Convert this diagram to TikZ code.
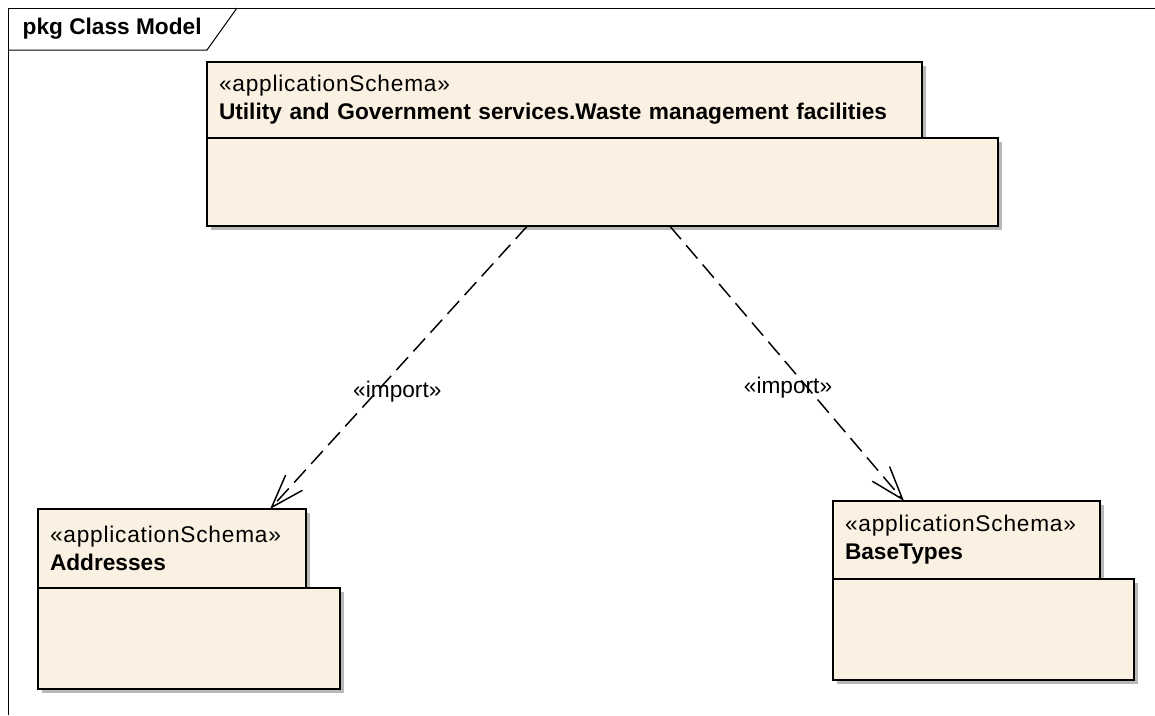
\documentclass[tikz,border=0pt]{standalone}
\usepackage{fontspec}
\setmainfont{Liberation Sans}
\usetikzlibrary{calc,arrows.meta,shadows}
\definecolor{pkgfill}{RGB}{251,241,226}
\newcommand{\stereotxt}[1]{{\addfontfeature{LetterSpace=3.5}#1}}

\begin{document}
\begin{tikzpicture}[x=0.75pt,y=-0.75pt,font=\fontsize{17}{21}\selectfont,
  pkgshadow/.style={drop shadow={shadow xshift=3pt,shadow yshift=-3pt,fill=black!28,opacity=1}},
  pkgtab/.style={draw=black,fill=pkgfill,line width=1.5pt,outer sep=0pt,anchor=north west,align=left,inner xsep=9pt,pkgshadow},
  pkgbody/.style={draw=black,fill=pkgfill,line width=1.5pt,outer sep=0pt,anchor=north west,pkgshadow},
  import/.style={line width=1.1pt,dash pattern=on 13pt off 6pt,-{Straight Barb[length=25pt,width=17pt]}}]
  \useasboundingbox (0,0) rectangle (1155,715);

  % frame
  \draw[line width=0.75pt] (8,715) -- (8,8) -- (1155,8);
  \draw[line width=0.75pt] (8,50) -- (207,50) -- (237,8);
  \node[anchor=west,font=\fontsize{17}{21}\selectfont\bfseries] (frameLbl) at (18,29) {pkg Class Model};

  % packages
  \node[pkgtab,minimum width=536.25pt,minimum height=57pt,text width=518.25pt] (wmfTab) at (207,62)
    {\stereotxt{«applicationSchema»}\\\textbf{Utility and Government services.Waste management facilities}};
  \node[pkgbody,minimum width=593.25pt,minimum height=66pt] (wmfBody) at (wmfTab.south west) {};

  \node[pkgtab,minimum width=201pt,minimum height=59.25pt,text width=183pt] (addrTab) at (38,509)
    {\stereotxt{«applicationSchema»}\\\textbf{Addresses}};
  \node[pkgbody,minimum width=226.5pt,minimum height=75.75pt] (addrBody) at (addrTab.south west) {};

  \node[pkgtab,minimum width=200.25pt,minimum height=58.5pt,text width=182.25pt] (baseTab) at (833,501)
    {\stereotxt{«applicationSchema»}\\\textbf{BaseTypes}};
  \node[pkgbody,minimum width=225.75pt,minimum height=75.75pt] (baseBody) at (baseTab.south west) {};

  % imports
  \draw[import] ($(wmfBody.south west)!0.405!(wmfBody.south east)$)
    -- node[pos=0.587,xshift=15.75pt] (impAddr) {«import»}
    ($(addrTab.north west)!0.866!(addrTab.north east)$);
  \draw[import] ($(wmfBody.south west)!0.585!(wmfBody.south east)$)
    -- node[pos=0.586,xshift=-14.25pt] (impBase) {«import»}
    ($(baseTab.north west)!0.266!(baseTab.north east)$);
\end{tikzpicture}
\end{document}
